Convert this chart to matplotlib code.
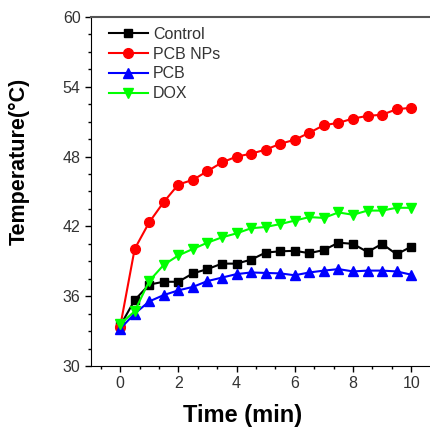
import matplotlib
matplotlib.use('Agg')
import matplotlib.pyplot as plt
import numpy as np
from matplotlib.ticker import MultipleLocator

plt.rcParams['font.family'] = ['Liberation Sans', 'DejaVu Sans']

time = [0, 0.5, 1, 1.5, 2, 2.5, 3, 3.5, 4, 4.5, 5, 5.5, 6, 6.5, 7, 7.5, 8, 8.5, 9, 9.5, 10]

control = [33.45, 35.66, 37.0, 37.24, 37.24, 37.96, 38.33, 38.8, 38.8, 39.14, 39.75,
           39.86, 39.9, 39.7, 39.97, 40.6, 40.5, 39.8, 40.5, 39.6, 40.26]
pcb_nps = [33.35, 40.06, 42.35, 44.1, 45.6, 46.0, 46.75, 47.5, 48.0, 48.25, 48.6,
           49.1, 49.45, 50.05, 50.7, 50.9, 51.27, 51.5, 51.6, 52.07, 52.2]
pcb = [33.2, 34.5, 35.55, 36.1, 36.5, 36.8, 37.3, 37.6, 37.9, 38.04, 38.0,
       37.96, 37.8, 38.04, 38.2, 38.33, 38.13, 38.2, 38.2, 38.13, 37.85]
dox = [33.6, 34.7, 37.3, 38.7, 39.5, 40.06, 40.6, 41.06, 41.4, 41.84, 41.95,
       42.2, 42.5, 42.8, 42.73, 43.2, 43.0, 43.36, 43.36, 43.6, 43.6]

fig = plt.figure(figsize=(4.31, 4.36), dpi=100)
ax = fig.add_axes([91/431, 70/436, 340/431, 349/436])

ax.plot(time, control, color='black', marker='s', ms=6, lw=1.5, label='Control')
ax.plot(time, pcb_nps, color='red', marker='o', ms=7, lw=1.5, label='PCB NPs')
ax.plot(time, pcb, color='blue', marker='^', ms=7.5, lw=1.5, label='PCB')
ax.plot(time, dox, color='#00ff00', marker='v', ms=7.5, lw=1.5, label='DOX')

ax.set_xlim(-1, 10.68)
ax.set_ylim(30, 60)
ax.xaxis.set_major_locator(MultipleLocator(2))
ax.xaxis.set_minor_locator(MultipleLocator(2/3))
ax.yaxis.set_major_locator(MultipleLocator(6))
ax.yaxis.set_minor_locator(MultipleLocator(1.5))
ax.tick_params(which='major', direction='out', length=4, width=1, labelsize=11.5,
               labelcolor='#333333')
ax.tick_params(which='minor', direction='out', length=2, width=1)

ax.spines['right'].set_visible(False)
ax.spines['top'].set_color('#555555')
ax.spines['top'].set_linewidth(1.5)

ax.set_xlabel('Time (min)', fontsize=17, fontweight='bold')
ax.set_ylabel('Temperature(°C)', fontsize=15.5, fontweight='bold')
ax.xaxis.set_label_coords(0.447, -0.11)
ax.yaxis.set_label_coords(-0.18, 0.585)

ax.legend(loc='upper left', frameon=False, fontsize=11.5, handlelength=2.4,
          handletextpad=0.35, labelspacing=0.3, borderaxespad=0.0,
          bbox_to_anchor=(0.035, 0.99), labelcolor='#333333')

fig.savefig('out.png', dpi=100)
plt.close()
